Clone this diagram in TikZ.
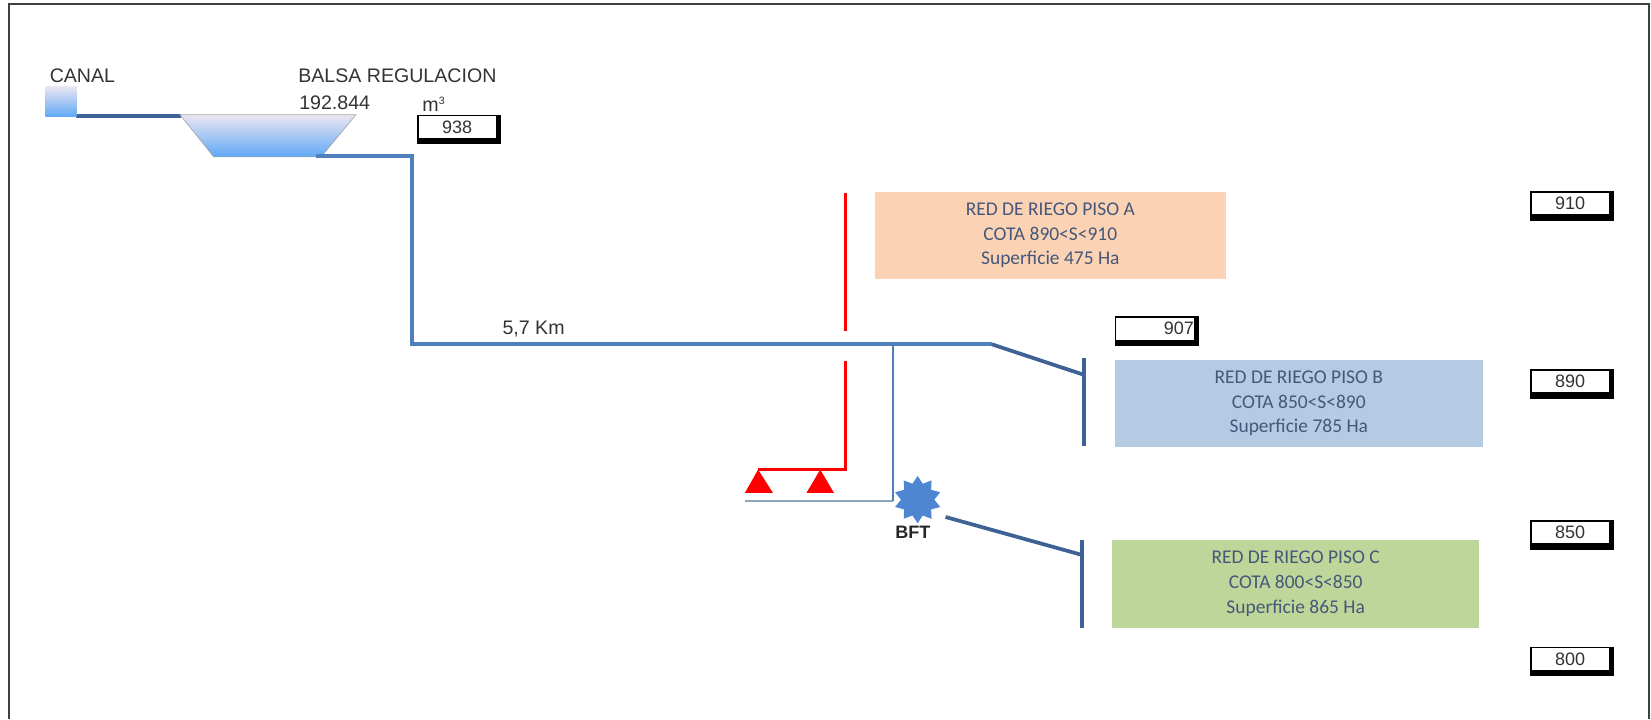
\documentclass[tikz,border=0pt]{standalone}
\usepackage{fontspec}
\setmainfont{Liberation Sans}
\newfontfamily\boxfont{Carlito}
\usetikzlibrary{shapes.geometric,calc}
\definecolor{pipeblue}{HTML}{4F7FBC}
\definecolor{pipedark}{HTML}{3E6296}
\definecolor{boxtext}{HTML}{44587A}
\definecolor{labelgray}{HTML}{333333}
\definecolor{pisoa}{HTML}{FBD2B4}
\definecolor{pisob}{HTML}{B5CAE3}
\definecolor{pisoc}{HTML}{BFD69B}
\definecolor{waterlow}{HTML}{5FA8F5}
\definecolor{waterhigh}{HTML}{ECE6F2}
\definecolor{starblue}{HTML}{4F86D2}
\definecolor{graypipe}{HTML}{8FA6B8}
\newcommand{\uu}{0.7897pt}
\tikzset{
  x=\uu,y=-\uu,
  pipe/.style={draw=pipeblue,line width=2.9pt},
  pipethin/.style={draw=pipeblue,line width=1.9pt},
  pipedk/.style={draw=pipedark,line width=2.8pt},
  redline/.style={draw=red,line width=2.3pt},
  graypipeline/.style={draw=graypipe,line width=1.5pt},
  lbl/.style={inner sep=0pt,text=labelgray,font=\fontsize{14.7}{16}\selectfont},
  piso/.style={inner sep=0pt,minimum height=83*\uu,minimum width=349*\uu,text=boxtext,align=center,
     font=\boxfont\fontsize{14.6}{18.6}\selectfont},
  levelback/.style={fill=black,inner sep=0pt,minimum width=80*\uu,minimum height=28*\uu},
  levelfront/.style={fill=white,inner sep=0pt,minimum width=73.5*\uu,minimum height=20.5*\uu,
     text=labelgray,font=\fontsize{13.5}{16}\selectfont},
  redtri/.style={fill=red,draw=none},
}
\newcommand{\levelmark}[4]{%
  \node[levelback] (#1) at (#2,#3) {};
  \node[levelfront] (#1t) at ($(#1.center)+(-1.75,-2.25)$) {#4};
}
\begin{document}
\begin{tikzpicture}
\useasboundingbox (0,0) rectangle (1568,683);
% frame
\draw[draw=black!75,line width=1.1pt] (8.5,683) -- (8.5,4) -- (1566,4) -- (1566,683);

% canal tank and reservoir
\draw[pipedk,line width=3.2pt] (72,110) -- (172,110);
\shade[top color=waterhigh,bottom color=waterlow] (43,82) rectangle (73,111);
\shade[top color=waterhigh,bottom color=waterlow,draw=gray!70,line width=.5pt]
   (171,109) -- (338,109) -- (305,149) -- (203,149) -- cycle;
\coordinate (resout) at (300,148);
\coordinate (elbowa) at (391,148);
\coordinate (elbowb) at (391,327);
\coordinate (tap) at (848,327);
\coordinate (mainend) at (942,327);
\coordinate (bfoot) at (848,476);
\coordinate (grayend) at (708,476);
\draw[graypipeline] (grayend) -- (bfoot);
\draw[pipe] (resout) -- (elbowa) -- (elbowb) -- (mainend);
\draw[pipethin] (tap) -- (bfoot);

% labels top left
\node[lbl,anchor=west] (canal) at (47,72) {CANAL};
\node[lbl,anchor=west] (balsa) at (283,72) {BALSA REGULACION};
\node[lbl,anchor=west] (vol) at (284,98) {192.844};
\node[lbl,anchor=west] (unit) at (401,99) {m\textsuperscript{\fontsize{8}{8}\selectfont 3}};
\node[lbl,anchor=west] (dist) at (477,312) {5,7 Km};

% level boxes
\levelmark{la}{436}{123}{938}
\levelmark{lb}{1098.5}{314.5}{\hspace*{36pt}907}
\levelmark{lc}{1493}{195.5}{910}
\levelmark{ld}{1493}{364.5}{890}
\levelmark{le}{1493}{508}{850}
\levelmark{lf}{1493}{628}{800}

% irrigation boxes
\node[piso,fill=pisoa,minimum width=333*\uu] (pa) at (997.5,223.5) {RED DE RIEGO PISO A\\COTA 890<S<910\\Superficie 475 Ha};
\node[piso,fill=pisob] (pb) at (1233.5,383) {RED DE RIEGO PISO B\\COTA 850<S<890\\Superficie 785 Ha};
\node[piso,fill=pisoc] (pc) at (1230.5,554.5) {RED DE RIEGO PISO C\\COTA 800<S<850\\Superficie 865 Ha};

% red line and triangles
\coordinate (ra) at (803,183);
\coordinate (rb) at (803,314);
\coordinate (rc) at (803,343);
\coordinate (rd) at (803,446);
\coordinate (re) at (720,446);
\draw[redline] (ra) -- (rb);
\draw[redline] (rc) -- (rd) -- (re);
\fill[redtri] (720,446) -- (734,468) -- (707.5,468) -- cycle;
\fill[redtri] (779,446) -- (792,468) -- (766,468) -- cycle;

% distribution heads
\coordinate (bt) at (1029.5,340);
\coordinate (bb) at (1029.5,424);
\coordinate (bj) at (1029.5,356);
\coordinate (ct) at (1027.5,513);
\coordinate (cb) at (1027.5,596);
\coordinate (cj) at (1027.5,527);
\draw[pipedk] (bt) -- (bb);
\draw[pipedk] (ct) -- (cb);
\draw[pipedk] (mainend) -- (bj);

% booster
\node[star,star points=10,star point ratio=1.42,fill=starblue,inner sep=0pt,minimum size=45*\uu] (bft) at (871.5,474.5) {};
\node[inner sep=0pt,font=\bfseries\fontsize{13.5}{14}\selectfont,text=black!85] (bftl) at (867,506) {BFT};
\coordinate (cs) at (898,491);
\draw[pipedk] (cs) -- (cj);
\end{tikzpicture}
\end{document}
